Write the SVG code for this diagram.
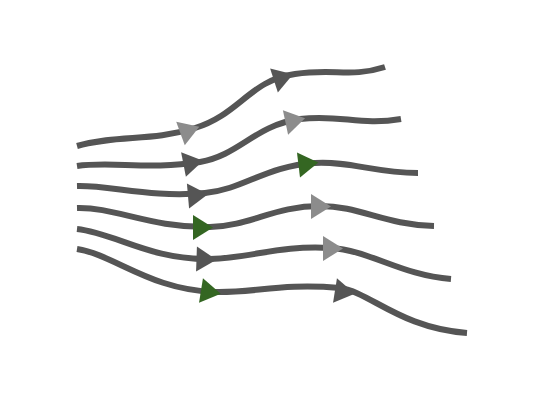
<svg xmlns="http://www.w3.org/2000/svg" xmlns:xlink="http://www.w3.org/1999/xlink" width="544" height="400" viewBox="0 0 544 400">
<style>
.flow{fill:none;stroke:#555555;stroke-width:6}
.dark{fill:#555555}
.gray{fill:#8c8c8c}
.green{fill:#346622}
</style>
<defs>
<polygon id="tri" points="20,0 0,-12.5 0,12.5"/>
</defs>
<rect width="544" height="400" fill="#ffffff"/>
<g id="connectors">
<path class="flow" d="M77,146 C120,134 150,142 195,128 C240,114 250,80 295,74 C335,68 350,78 385,67"/>
<path class="flow" d="M77,166 C110,161 150,170 200,162 C240,155 255,125 300,119 C340,114 360,126 401,119"/>
<path class="flow" d="M77,186 C110,185 150,198 205,193 C245,189 265,166 315,163 C350,161 375,173 418,173"/>
<path class="flow" d="M77,208 C115,207 150,228 210,227 C250,226 275,206 320,206 C360,206 385,225 434,226"/>
<path class="flow" d="M77,229 C115,233 150,260 210,259 C250,258 280,245 330,248 C370,250 400,275 451,279"/>
<path class="flow" d="M77,249 C115,255 150,290 215,292 C255,293 280,283 340,288 C370,292 400,328 467,333"/>
</g>
<g id="arrows">
<use xlink:href="#tri" class="gray" transform="translate(180.5,133.5) rotate(-20)"/>
<use xlink:href="#tri" class="dark" transform="translate(274,80.5) rotate(-18)"/>
<use xlink:href="#tri" class="dark" transform="translate(183.5,164.5) rotate(-11)"/>
<use xlink:href="#tri" class="gray" transform="translate(285.5,122.5) rotate(-12)"/>
<use xlink:href="#tri" class="dark" transform="translate(188,196) rotate(-5)"/>
<use xlink:href="#tri" class="green" transform="translate(298.5,165) rotate(-7)"/>
<use xlink:href="#tri" class="green" transform="translate(193,227.5) rotate(0)"/>
<use xlink:href="#tri" class="gray" transform="translate(311,206.5) rotate(0)"/>
<use xlink:href="#tri" class="dark" transform="translate(196.5,259) rotate(2)"/>
<use xlink:href="#tri" class="gray" transform="translate(323,248.5) rotate(0)"/>
<use xlink:href="#tri" class="green" transform="translate(201,290.5) rotate(9)"/>
<use xlink:href="#tri" class="dark" transform="translate(335,290.5) rotate(9)"/>
</g>
</svg>
